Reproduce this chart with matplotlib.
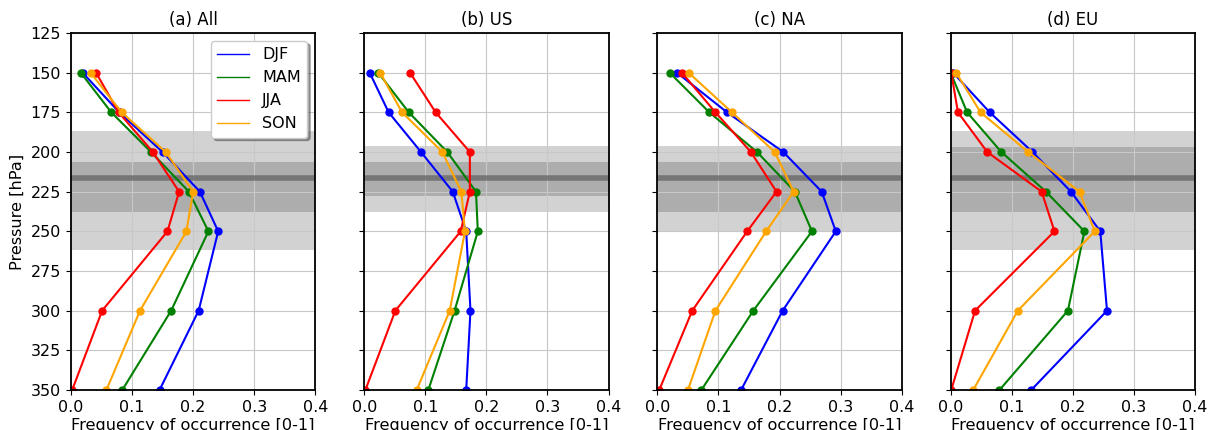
import numpy as np
import matplotlib.pyplot as plt
from matplotlib.lines import Line2D

plt.rcParams['font.size'] = 12

pressure = [150, 175, 200, 225, 250, 300, 350]
seasons = ['DJF', 'MAM', 'JJA', 'SON']
colors = ['blue', 'green', 'red', 'orange']
titles = ['(a) All', '(b) US', '(c) NA', '(d) EU']

# frequency of occurrence per region, per season (values along pressure levels)
freq_all = {
    'DJF': [0.019, 0.079, 0.150, 0.211, 0.241, 0.209, 0.145],
    'MAM': [0.016, 0.066, 0.131, 0.193, 0.225, 0.164, 0.084],
    'JJA': [0.041, 0.078, 0.134, 0.177, 0.158, 0.051, 0.002],
    'SON': [0.032, 0.083, 0.155, 0.200, 0.189, 0.113, 0.058],
}
freq_us = {
    'DJF': [0.009, 0.040, 0.093, 0.145, 0.167, 0.174, 0.167],
    'MAM': [0.023, 0.073, 0.136, 0.183, 0.186, 0.148, 0.105],
    'JJA': [0.075, 0.117, 0.173, 0.173, 0.158, 0.051, 0.002],
    'SON': [0.026, 0.062, 0.128, 0.159, 0.165, 0.140, 0.086],
}
freq_na = {
    'DJF': [0.032, 0.114, 0.206, 0.269, 0.292, 0.205, 0.137],
    'MAM': [0.020, 0.085, 0.163, 0.225, 0.253, 0.157, 0.072],
    'JJA': [0.040, 0.095, 0.153, 0.195, 0.147, 0.057, 0.003],
    'SON': [0.051, 0.122, 0.192, 0.223, 0.178, 0.095, 0.050],
}
freq_eu = {
    'DJF': [0.004, 0.064, 0.134, 0.197, 0.245, 0.256, 0.132],
    'MAM': [0.000, 0.027, 0.083, 0.156, 0.219, 0.192, 0.080],
    'JJA': [0.001, 0.012, 0.060, 0.149, 0.170, 0.040, 0.001],
    'SON': [0.009, 0.049, 0.127, 0.211, 0.236, 0.110, 0.037],
}
regions = [freq_all, freq_us, freq_na, freq_eu]

# tropopause ranges: (light band), (dark band), mean line
light_band = [(187, 262), (196, 238), (196, 250), (187, 262)]
dark_band = [(206, 238), (206, 228), (206, 238), (197, 238)]
trop_mean = [216.5, 216.5, 216.5, 216.5]

fig, axes = plt.subplots(1, 4, figsize=(12.09, 4.30), dpi=100, sharey=True)
fig.subplots_adjust(left=0.0587, right=0.9884, top=0.9233, bottom=0.093, wspace=0.2)

for i, ax in enumerate(axes):
    ax.axhspan(*light_band[i], color='gray', alpha=0.35, lw=0)
    ax.axhspan(*dark_band[i], color='gray', alpha=0.45, lw=0)
    ax.axhline(trop_mean[i], color='dimgray', lw=4, alpha=0.8)
    for s, c in zip(seasons, colors):
        ax.plot(regions[i][s], pressure, '-o', color=c, ms=5, lw=1.5)
    ax.set_xlim(0, 0.4)
    ax.set_ylim(350, 125)
    ax.set_xticks([0.0, 0.1, 0.2, 0.3, 0.4])
    ax.set_yticks(np.arange(125, 351, 25))
    ax.tick_params(labelsize=11.5)
    ax.grid(True, color='#c8c8c8')
    ax.set_title(titles[i], fontsize=12)
    ax.set_xlabel('Frequency of occurrence [0-1]', fontsize=11.6, labelpad=2)
    for sp in ax.spines.values():
        sp.set_linewidth(1.3)

axes[0].set_ylabel('Pressure [hPa]', fontsize=11.6)
handles = [Line2D([], [], color=c, lw=1) for c in colors]
axes[0].legend(handles, seasons, loc='upper right', shadow=True, fontsize=11.5)

fig.savefig('out.png')
